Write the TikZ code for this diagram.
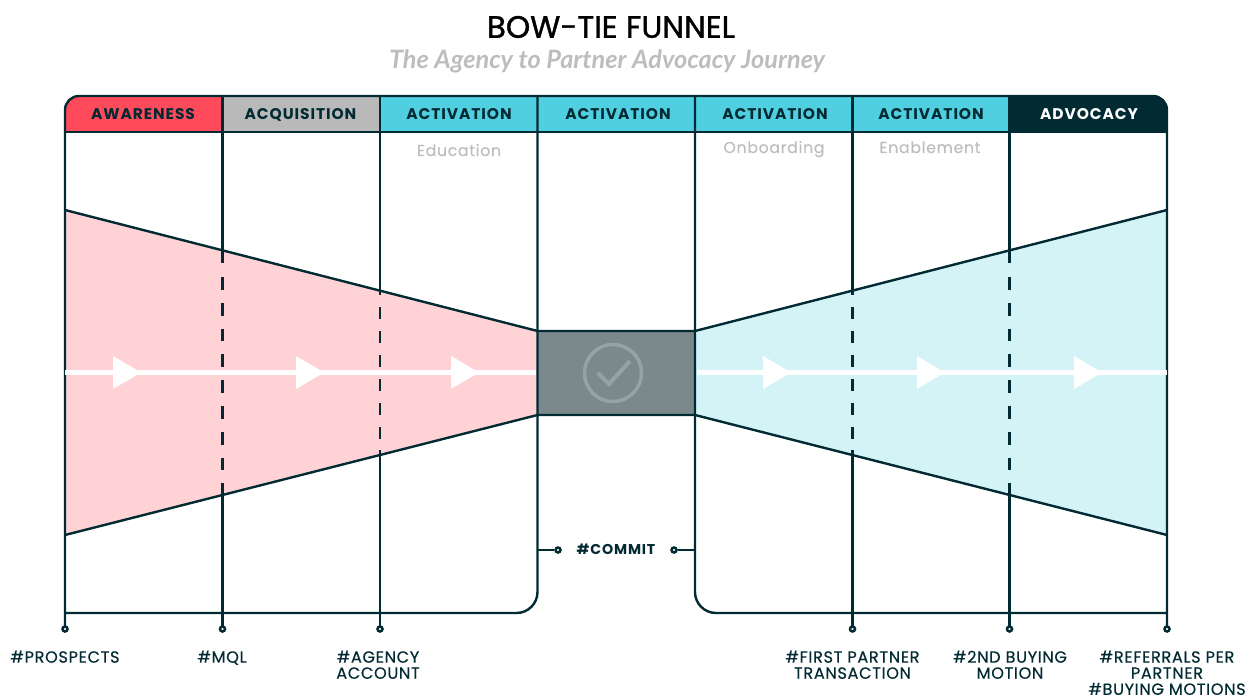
\documentclass[tikz,border=0pt]{standalone}
\usepackage{fontspec}
\setmainfont{Poppins}
\newfontfamily\subfont{Lato}
\newfontfamily\titlefont[FakeBold=1.2]{Poppins}
\newfontfamily\capfont[LetterSpace=6]{Poppins}
\newfontfamily\lightfont[LetterSpace=4,FakeBold=0.15]{Poppins}
\newfontfamily\metricfont[LetterSpace=4,FakeBold=0.4]{Poppins}
\definecolor{inkdark}{HTML}{012A33}
\definecolor{capred}{HTML}{FF4A5C}
\definecolor{capgray}{HTML}{B9B9B9}
\definecolor{capcyan}{HTML}{50CFE0}
\definecolor{fillpink}{HTML}{FFD2D6}
\definecolor{fillblue}{HTML}{D3F3F7}
\definecolor{boxgray}{HTML}{7C898C}
\definecolor{checkgray}{HTML}{96A2A4}
\definecolor{subgray}{HTML}{BDBDBD}
\tikzset{
  rule/.style={draw=inkdark, line width=0.048cm},
  cut/.style={draw=inkdark, line width=0.048cm, dash pattern=on #1 off #1},
  caption/.style={font=\capfont\fontsize{8.8}{10}\selectfont\bfseries, text=inkdark},
  sublabel/.style={font=\lightfont\fontsize{9}{10}\selectfont, text=subgray, anchor=base},
  metric/.style={font=\metricfont\fontsize{9.2}{9.15}\selectfont, text=inkdark, align=center, anchor=north},
  pin/.style={circle, draw=inkdark, fill=white, line width=0.05cm, inner sep=0pt, minimum size=0.1cm},
  flow/.style={draw=white, line width=0.085cm},
  tip/.style={fill=white, draw=none}
}
\begin{document}
\begin{tikzpicture}[x=0.02cm, y=-0.02cm]
\useasboundingbox (0,0) rectangle (1259,696);
% title
\node[font=\titlefont\fontsize{17.6}{20}\selectfont, text=black] (title) at (611,27) {BOW-TIE FUNNEL};
\node[font=\subfont\fontsize{14.4}{15}\selectfont\itshape\bfseries, text=subgray] (subtitle) at (607,61.5) {The Agency to Partner Advocacy Journey};
% funnel
\fill[fillpink] (65,210) -- (537.5,331) -- (537.5,415) -- (65,535) -- cycle;
\fill[fillblue] (1167,210) -- (695,331) -- (695,415) -- (1167,535) -- cycle;
\fill[boxgray] (537.5,331) rectangle (695,415);
% header
\fill[capred] (222.5,132) -- (65,132) -- (65,110) .. controls (65,102) and (71,96) .. (79,96) -- (222.5,96) -- cycle;
\fill[capgray] (222.5,96) rectangle (380,132);
\fill[capcyan] (380,96) rectangle (1009.5,132);
\fill[inkdark] (1009.5,132) -- (1167,132) -- (1167,110) .. controls (1167,102) and (1161,96) .. (1153,96) -- (1009.5,96) -- cycle;
% frame
\draw[rule] (65,132) -- (1167,132);
\draw[rule, rounded corners=0.28cm] (65,629) -- (65,96) -- (1167,96) -- (1167,629);
\draw[rule, rounded corners=0.42cm] (65,613) -- (537.5,613) -- (537.5,96);
\draw[rule, rounded corners=0.42cm] (1167,613) -- (695,613) -- (695,96);
% columns, solid outside the funnel
\foreach \x/\top/\dtop/\dbot/\bot/\dlen in {222.5/263/277/470/483/0.258cm, 380/295/307/439/450/0.24cm, 852.5/295/307/439/450/0.24cm, 1009.5/263/277/470/483/0.258cm} {
  \draw[rule] (\x,96) -- (\x,\top);
  \draw[cut=\dlen] (\x,\dtop) -- (\x,\dbot);
  \draw[rule] (\x,\bot) -- (\x,629);
}
% funnel edges
\draw[rule] (65,210) -- (537.5,331) -- (695,331) -- (1167,210);
\draw[rule] (65,535) -- (537.5,415) -- (695,415) -- (1167,535);
% flow
\draw[flow] (65,372.5) -- (535.5,372.5);
\draw[flow] (697,372.5) -- (1167,372.5);
\foreach \x in {113,296,451,763,917,1074}
  \fill[tip] (\x,356) -- (\x+28,372.5) -- (\x,389) -- cycle;
% check
\draw[checkgray, line width=0.07cm] (613,373) circle (28.5);
\draw[checkgray, line width=0.08cm] (598,373) -- (609,384) -- (630,361);
% header labels
\node[caption] (awareness) at (143,114.5) {AWARENESS};
\node[caption] (acquisition) at (300.5,114.5) {ACQUISITION};
\node[caption] (activationa) at (459,114.5) {ACTIVATION};
\node[caption] (activationb) at (618,114.5) {ACTIVATION};
\node[caption] (activationc) at (775,114.5) {ACTIVATION};
\node[caption] (activationd) at (931,114.5) {ACTIVATION};
\node[caption, text=white] (advocacy) at (1089,114.5) {ADVOCACY};
\node[sublabel] (education) at (459,156) {Education};
\node[sublabel] (onboarding) at (774,153) {Onboarding};
\node[sublabel] (enablement) at (930,153) {Enablement};
% pins
\foreach \x/\name in {65/prospects, 222.5/mql, 380/agency, 852.5/first, 1009.5/second, 1167/referrals}
  \node[pin] (pin\name) at (\x,629) {};
\node[pin] (pinleft) at (558,550) {};
\node[pin] (pinright) at (674,550) {};
\coordinate (spurleft) at (537.5,550);
\coordinate (spurright) at (695,550);
\draw[rule] (spurleft) -- (pinleft);
\draw[rule] (spurright) -- (pinright);
\node[caption, font=\capfont\fontsize{8.1}{10}\selectfont\bfseries] (commit) at (616,549.5) {\#COMMIT};
% metrics
\node[metric] (prospects) at (65,644.5) {\#PROSPECTS};
\node[metric] (mql) at (222,644.5) {\#MQL};
\node[metric] (agency) at (378,644.5) {\#AGENCY\\ACCOUNT};
\node[metric] (first) at (852.5,644.5) {\#FIRST PARTNER\\TRANSACTION};
\node[metric] (second) at (1010,644.5) {\#2ND BUYING\\MOTION};
\node[metric] (referrals) at (1167,644.5) {\#REFERRALS PER\\PARTNER\\\#BUYING MOTIONS};
\end{tikzpicture}
\end{document}
